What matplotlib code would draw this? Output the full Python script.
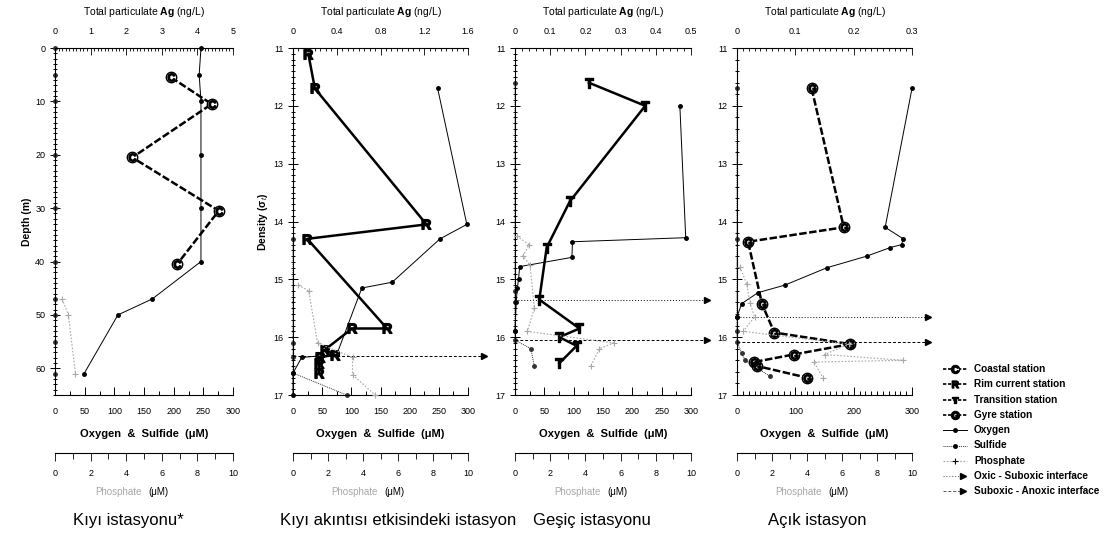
import matplotlib
matplotlib.use("Agg")
import matplotlib.pyplot as plt
import matplotlib.transforms as mtransforms
from matplotlib.ticker import MultipleLocator, FormatStrFormatter

plt.rcParams['font.family'] = ['Liberation Sans', 'DejaVu Sans']
plt.rcParams['mathtext.fontset'] = 'custom'
plt.rcParams['mathtext.rm'] = 'Liberation Sans'
plt.rcParams['mathtext.bf'] = 'Liberation Sans:bold'
plt.rcParams['mathtext.it'] = 'Liberation Sans:italic'

# ---------------- Coastal station (depth, m) ----------------
coast_ag_depth = [5.5, 10.5, 20.5, 30.5, 40.5]
coast_ag = [3.26, 4.4, 2.17, 4.6, 3.43]
coast_o2_depth = [0, 5, 10, 20, 30, 40, 47, 50, 61]
coast_o2 = [246, 243, 246, 246, 246, 246, 164, 106, 49]
coast_h2s_depth = [0, 5, 10, 20, 30, 40, 47, 50, 55, 61]
coast_h2s = [0, 0, 0, 0, 0, 0, 0, 0, 0, 0]
coast_po4_depth = [47, 50, 61]
coast_po4 = [0.4, 0.75, 1.15]

# ---------------- Rim current station (sigma-t) ----------------
rim_ag_sigma = [11.1, 11.7, 14.05, 14.3, 15.85, 15.85, 16.22, 16.3, 16.35, 16.45, 16.62]
rim_ag = [0.14, 0.20, 1.22, 0.13, 0.86, 0.54, 0.29, 0.38, 0.25, 0.24, 0.24]
rim_o2_sigma = [11.7, 14.05, 14.3, 15.05, 15.15, 16.3, 16.35, 16.62, 17.0]
rim_o2 = [248, 298, 252, 170, 118, 75, 15, 0, 0]
rim_h2s_sigma = [14.3, 16.1, 16.35, 16.62, 17.0]
rim_h2s = [0, 0, 0, 0, 92]
rim_po4_sigma = [15.1, 15.2, 16.1, 16.35, 16.65, 17.0]
rim_po4 = [0.3, 0.9, 1.4, 3.4, 3.4, 4.7]
rim_anoxic = [16.33]

# ---------------- Transition station ----------------
tr_ag_sigma = [11.6, 12.0, 13.65, 14.45, 15.35, 15.85, 16.0, 16.15, 16.45]
tr_ag = [0.21, 0.37, 0.156, 0.09, 0.069, 0.183, 0.126, 0.175, 0.126]
tr_o2_sigma = [12.0, 14.28, 14.35, 14.62, 14.78, 15.0, 15.15, 15.4, 15.9]
tr_o2 = [281, 291, 98, 97, 8, 6, 4, 2, 0]
tr_h2s_sigma = [11.6, 15.2, 15.4, 15.9, 16.05, 16.2, 16.5]
tr_h2s = [0, 0, 0, 0, 0, 27, 33]
tr_po4_sigma = [14.25, 14.4, 14.6, 14.75, 15.5, 15.9, 16.1, 16.2, 16.5]
tr_po4 = [0.1, 0.8, 0.45, 0.85, 1.1, 0.7, 5.6, 4.8, 4.3]
tr_oxic = [15.35]
tr_anoxic = [16.05]

# ---------------- Gyre station ----------------
gy_ag_sigma = [11.7, 14.1, 14.35, 15.43, 15.92, 16.12, 16.3, 16.43, 16.5, 16.7]
gy_ag = [0.128, 0.183, 0.019, 0.043, 0.064, 0.194, 0.097, 0.029, 0.035, 0.12]
gy_o2_sigma = [11.7, 14.1, 14.3, 14.4, 14.45, 14.6, 14.8, 15.1, 15.23, 15.42, 15.65]
gy_o2 = [300, 254, 285, 282, 263, 222, 154, 82, 36, 8, 0]
gy_h2s_sigma = [11.7, 14.3, 15.65, 15.9, 16.08, 16.28, 16.4, 16.68]
gy_h2s = [0, 0, 0, 0, 0, 8, 14, 57]
gy_po4_sigma = [14.78, 15.08, 15.41, 15.65, 15.9, 16.12, 16.3, 16.4, 16.43, 16.7]
gy_po4 = [0.17, 0.55, 0.75, 1.0, 0.35, 6.4, 5.0, 9.5, 4.4, 4.9]
gy_oxic = [15.65]
gy_anoxic = [16.08]

station_names = ['Kıyı istasyonu*', 'Kıyı akıntısı etkisindeki istasyon',
                 'Geşiç istasyonu', 'Açık istasyon']

PO4_GREY = '#a8a8a8'
W, H = 1119, 539
fig = plt.figure(figsize=(W / 100, H / 100), dpi=100)


def setup_panel(left, right, ylim, y_major, y_minor, ag_lim, ag_major, ag_minor,
                ox_major, ox_minor, ylabel=None):
    ax = fig.add_axes([left / W, 1 - 395 / H, (right - left) / W, 347 / H])
    ax.set_xlim(0, 300)
    ax.set_ylim(*ylim)
    for s in ('top', 'right'):
        ax.spines[s].set_visible(False)
    for s in ('left', 'bottom'):
        ax.spines[s].set_linewidth(0.8)
    ax.xaxis.set_major_locator(MultipleLocator(ox_major))
    ax.xaxis.set_minor_locator(MultipleLocator(ox_minor))
    ax.yaxis.set_major_locator(MultipleLocator(y_major))
    ax.yaxis.set_minor_locator(MultipleLocator(y_minor))
    ax.tick_params(axis='x', which='both', direction='in', labelsize=6.5, pad=9, width=0.7)
    ax.tick_params(axis='x', which='major', length=6)
    ax.tick_params(axis='x', which='minor', length=3)
    ax.tick_params(axis='y', which='both', direction='inout', labelsize=6.5, width=0.7)
    ax.tick_params(axis='y', which='major', length=7)
    ax.tick_params(axis='y', which='minor', length=3)
    ax.set_xlabel('Oxygen  &  Sulfide  (μM)', fontsize=8, fontweight='bold', labelpad=9)
    if ylabel:
        ax.set_ylabel(ylabel, fontsize=7.5, fontweight='bold', labelpad=2)

    ax_ag = ax.twiny()
    ax_ag.set_xlim(0, ag_lim)
    for s in ('bottom', 'left', 'right'):
        ax_ag.spines[s].set_visible(False)
    ax_ag.spines['top'].set_linewidth(0.8)
    ax_ag.xaxis.set_major_locator(MultipleLocator(ag_major))
    ax_ag.xaxis.set_minor_locator(MultipleLocator(ag_minor))
    ax_ag.xaxis.set_major_formatter(FormatStrFormatter('%g'))
    ax_ag.tick_params(axis='x', which='both', direction='in', labelsize=6.5, pad=9, width=0.6)
    ax_ag.tick_params(axis='x', which='major', length=5)
    ax_ag.tick_params(axis='x', which='minor', length=2.5)
    ax_ag.set_xlabel(r'Total particulate $\mathbf{Ag}$ (ng/L)', fontsize=7.5, labelpad=8)

    ax_p = ax.twiny()
    ax_p.set_xlim(0, 10)
    ax_p.xaxis.set_ticks_position('bottom')
    ax_p.xaxis.set_label_position('bottom')
    ax_p.spines['bottom'].set_position(('outward', 42))
    ax_p.spines['bottom'].set_linewidth(0.8)
    for s in ('top', 'left', 'right'):
        ax_p.spines[s].set_visible(False)
    ax_p.xaxis.set_major_locator(MultipleLocator(2))
    ax_p.xaxis.set_minor_locator(MultipleLocator(1))
    ax_p.tick_params(axis='x', which='both', direction='out', labelsize=6.5, width=0.6, pad=5)
    ax_p.tick_params(axis='x', which='major', length=6)
    ax_p.tick_params(axis='x', which='minor', length=4)
    ax.annotate('Phosphate', xy=(0.5, 0), xycoords='axes fraction', xytext=(-2, -70),
                textcoords='offset points', ha='right', va='center', fontsize=7, color=PO4_GREY)
    ax.annotate('(μM)', xy=(0.5, 0), xycoords='axes fraction', xytext=(3, -70),
                textcoords='offset points', ha='left', va='center', fontsize=7)
    return ax, ax_ag, ax_p


def station(ax_ag, x, y, letter, ls, circle):
    ax_ag.plot(x, y, color='k', lw=1.8, ls=ls, clip_on=False)
    if circle:
        ax_ag.plot(x, y, ls='none', marker='o', ms=7.5, mfc='white', mec='k', mew=1.0, clip_on=False)
    ax_ag.plot(x, y, ls='none', marker='$\\mathbf{%s}$' % letter, ms=5.5 if circle else 7,
               color='k', clip_on=False)


def chem(ax, ax_p, o2, o2_y, h2s, h2s_y, po4, po4_y):
    ax_p.plot(po4, po4_y, color=PO4_GREY, lw=0.8, ls=(0, (1.5, 1.5)), marker='+', ms=4,
              mew=0.8, clip_on=False)
    ax.plot(h2s, h2s_y, color='#333333', lw=0.7, ls=(0, (1, 1)), marker='o', ms=2.5, clip_on=False)
    ax.plot(o2, o2_y, color='k', lw=0.7, ls='-', marker='o', ms=2.5, clip_on=False)


def interfaces(ax, sig, style):
    trans = mtransforms.blended_transform_factory(ax.transAxes, ax.transData)
    for s in sig:
        ax.plot([0, 1.09], [s, s], transform=trans, color='k', lw=0.7, ls=style, clip_on=False)
        ax.plot([1.09], [s], transform=trans, marker='>', ms=4, color='k', ls='none', clip_on=False)


OXIC_LS = (0, (1, 2))
ANOXIC_LS = (0, (3, 2))

# panel 1
ax1, ag1, p1 = setup_panel(55, 233, (65, 0), 10, 1, 5, 1, 0.1, 50, 25, 'Depth (m)')
chem(ax1, p1, coast_o2, coast_o2_depth, coast_h2s, coast_h2s_depth, coast_po4, coast_po4_depth)
station(ag1, coast_ag, coast_ag_depth, 'C', (0, (3, 1)), True)

# panel 2
ax2, ag2, p2 = setup_panel(293, 468, (17, 11), 1, 0.1, 1.6, 0.4, 0.05, 50, 25,
                           'Density (σ$_t$)')
chem(ax2, p2, rim_o2, rim_o2_sigma, rim_h2s, rim_h2s_sigma, rim_po4, rim_po4_sigma)
station(ag2, rim_ag, rim_ag_sigma, 'R', '-', False)
interfaces(ax2, rim_anoxic, ANOXIC_LS)

# panel 3
ax3, ag3, p3 = setup_panel(515, 691, (17, 11), 1, 0.1, 0.5, 0.1, 0.02, 50, 25)
chem(ax3, p3, tr_o2, tr_o2_sigma, tr_h2s, tr_h2s_sigma, tr_po4, tr_po4_sigma)
station(ag3, tr_ag, tr_ag_sigma, 'T', '-', False)
interfaces(ax3, tr_oxic, OXIC_LS)
interfaces(ax3, tr_anoxic, ANOXIC_LS)

# panel 4
ax4, ag4, p4 = setup_panel(737, 912, (17, 11), 1, 0.2, 0.3, 0.1, 0.01, 100, 10)
chem(ax4, p4, gy_o2, gy_o2_sigma, gy_h2s, gy_h2s_sigma, gy_po4, gy_po4_sigma)
station(ag4, gy_ag, gy_ag_sigma, 'G', (0, (3, 1)), True)
interfaces(ax4, gy_oxic, OXIC_LS)
interfaces(ax4, gy_anoxic, ANOXIC_LS)

# station names
for name, xc in zip(station_names, [128, 398, 592, 817]):
    fig.text(xc / W, 1 - 521 / H, name, ha='center', va='center', fontsize=12)

# legend drawn by hand in pixel space
lax = fig.add_axes([930 / W, 1 - 500 / H, 189 / W, 145 / H])
lax.set_xlim(930, 1119)
lax.set_ylim(500, 355)
lax.axis('off')
legend_items = ['Coastal station', 'Rim current station', 'Transition station', 'Gyre station',
                'Oxygen', 'Sulfide', 'Phosphate', 'Oxic - Suboxic interface',
                'Suboxic - Anoxic interface']
for i, label in enumerate(legend_items):
    y = 369 + 15.3 * i
    xs = [943, 967]
    if i < 4:
        letter = 'CRTG'[i]
        lax.plot(xs, [y, y], color='k', lw=1.2, ls=(0, (2, 1)))
        if letter in 'CG':
            lax.plot([955], [y], marker='o', ms=6, mfc='white', mec='k', mew=0.8)
        lax.plot([955], [y], marker='$\\mathbf{%s}$' % letter, ms=5, color='k')
    elif label == 'Oxygen':
        lax.plot(xs, [y, y], color='k', lw=0.7, ls='-')
        lax.plot([955], [y], marker='o', ms=2.5, color='k')
    elif label == 'Sulfide':
        lax.plot(xs, [y, y], color='#333333', lw=0.7, ls=(0, (1, 1)))
        lax.plot([955], [y], marker='o', ms=2.5, color='k')
    elif label == 'Phosphate':
        lax.plot(xs, [y, y], color=PO4_GREY, lw=0.8, ls=(0, (1.5, 1.5)))
        lax.plot([955], [y], marker='+', ms=4, color='k', mew=0.8)
    else:
        ls = OXIC_LS if 'Oxic' in label else ANOXIC_LS
        lax.plot([943, 962], [y, y], color='#555555', lw=0.7, ls=ls)
        lax.plot([963], [y], marker='>', ms=4, color='k')
    lax.text(974, y, label, ha='left', va='center', fontsize=7.2, fontweight='bold')

plt.savefig('out.png', dpi=100)
